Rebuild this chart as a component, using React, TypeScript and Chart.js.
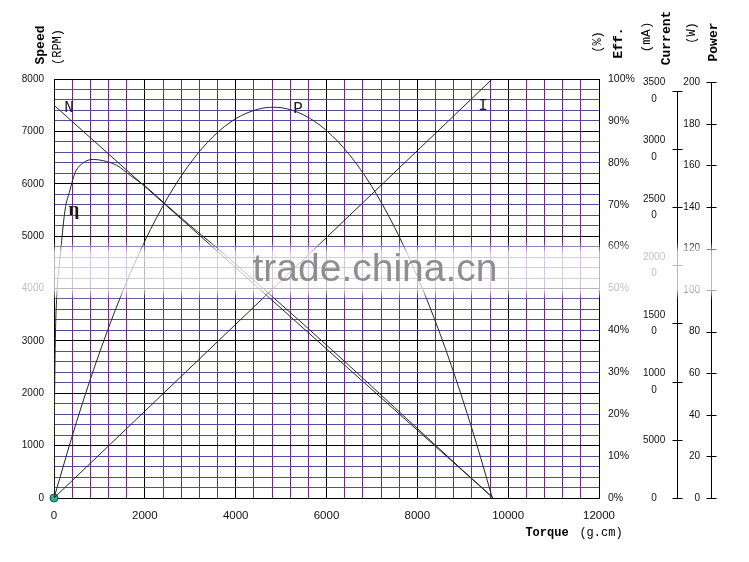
import React, { useEffect, useRef } from 'react';
import { Chart, registerables } from 'chart.js';

Chart.register(...registerables);

// ---- data ----
const N_TORQUE = [0, 9670];
const N_SPEED = [7500, 0];

const I_TORQUE = [0, 9650];
const I_CURRENT = [0, 36000];

const P_TORQUE = [0, 500, 1000, 1500, 2000, 2500, 3000, 3500, 4000, 4500, 4825, 5000, 5500, 6000, 6500, 7000, 7500, 8000, 8500, 9000, 9400, 9650];
const P_WATT = [0, 36.9, 69.8, 98.7, 123.6, 144.4, 161.1, 173.8, 182.5, 187.1, 188, 187.8, 184.3, 176.8, 165.3, 149.8, 130.2, 106.6, 79.0, 47.3, 19.0, 0];

const EFF_TORQUE = [0, 10, 30, 70, 120, 170, 242, 352, 463, 645, 866, 1086, 1381, 1700, 2000, 2500, 3000, 3500, 4000, 4500, 5000, 5500, 6000, 6500, 7000, 7500, 8000, 8500, 9000, 9400, 9670];
const EFF_PCT = [0, 20, 38, 50, 56, 61.5, 68.7, 73.5, 77.6, 80.0, 80.8, 80.5, 79.4, 76.8, 74.5, 69.7, 65.0, 60.5, 55.8, 51.0, 46.2, 41.4, 36.5, 31.6, 26.6, 21.6, 16.6, 11.6, 6.6, 2.7, 0];

const CURVE_LABELS = ['N', 'P', 'I'];
const CURVE_LABEL_TORQUE = [330, 5374, 9449];
const CURVE_LABEL_SPEED = [7446, 7427, 7484];
const ETA_LABEL = 'η';
const ETA_LABEL_TORQUE = 440;
const ETA_LABEL_SPEED = 5461;

// axis ticks
const X_MIN = 0, X_MAX = 12000, X_STEP = 400, X_LABEL_STEP = 2000;
const Y_MIN = 0, Y_MAX = 8000, Y_STEP = 200, Y_LABEL_STEP = 1000;
const EFF_TICKS = [0, 10, 20, 30, 40, 50, 60, 70, 80, 90, 100];
const CUR_TICKS = [0, 5000, 10000, 15000, 20000, 25000, 30000, 35000];
const POW_TICKS = [0, 20, 40, 60, 80, 100, 120, 140, 160, 180, 200];
const CUR_MAX = 36000;
const POW_MAX = 201.6;

const SANS = "'Liberation Sans', Arial, sans-serif";
const MONO = "'Liberation Mono', 'Courier New', monospace";
const SERIF = "'Liberation Serif', 'Times New Roman', serif";
const MAJOR = '#000000';
const MINOR_V = '#6e2c7c';
const MINOR_H = '#50509a';
const CURVE = '#262626';

function pts(xs: number[], ys: number[]) {
  return xs.map((x, i) => ({ x, y: ys[i] }));
}

function rotText(ctx: CanvasRenderingContext2D, text: string, x: number, y: number, font: string) {
  ctx.save();
  ctx.translate(x, y);
  ctx.rotate(-Math.PI / 2);
  ctx.font = font;
  ctx.textAlign = 'center';
  ctx.textBaseline = 'middle';
  ctx.fillStyle = '#000';
  ctx.fillText(text, 0, 0);
  ctx.restore();
}

const decorPlugin = {
  id: 'decor',
  afterDraw(chart: any) {
    const ctx: CanvasRenderingContext2D = chart.ctx;
    const sx = chart.scales.x;
    const sy = chart.scales.y;

    // side axes lines with tick marks (current, power)
    const drawAxis = (scale: any, ticks: number[], lineX: number) => {
      const xl = Math.round(lineX) + 0.5;
      const top = ticks[ticks.length - 1];
      ctx.save();
      ctx.strokeStyle = '#000';
      ctx.lineWidth = 1;
      ctx.beginPath();
      ctx.moveTo(xl, Math.round(scale.getPixelForValue(top)));
      ctx.lineTo(xl, Math.round(scale.getPixelForValue(0)) + 1);
      ticks.forEach((v) => {
        const y = Math.round(scale.getPixelForValue(v)) + 0.5;
        ctx.moveTo(xl - 5, y);
        ctx.lineTo(xl + 5, y);
      });
      ctx.stroke();
      ctx.restore();
    };
    drawAxis(chart.scales.cur, CUR_TICKS, chart.scales.cur.right);
    drawAxis(chart.scales.pow, POW_TICKS, chart.scales.pow.right + 11);

    // curve labels
    ctx.save();
    ctx.fillStyle = '#1a1a1a';
    ctx.textAlign = 'center';
    ctx.textBaseline = 'middle';
    ctx.font = `16px ${MONO}`;
    CURVE_LABELS.forEach((lab, i) => {
      ctx.fillText(lab, sx.getPixelForValue(CURVE_LABEL_TORQUE[i]), sy.getPixelForValue(CURVE_LABEL_SPEED[i]));
    });
    ctx.font = `bold 19px ${SERIF}`;
    ctx.fillText(ETA_LABEL, sx.getPixelForValue(ETA_LABEL_TORQUE), sy.getPixelForValue(ETA_LABEL_SPEED) - 2);
    ctx.restore();

    // axis titles
    rotText(ctx, 'Speed', 41, 45, `bold 13px ${MONO}`);
    rotText(ctx, '(RPM)', 58, 47, `12px ${MONO}`);
    rotText(ctx, '(%)', 598, 42, `12px ${MONO}`);
    rotText(ctx, 'Eff.', 619, 43, `bold 13px ${MONO}`);
    rotText(ctx, '(mA)', 647, 37, `13px ${MONO}`);
    rotText(ctx, 'Current', 667, 38, `bold 13px ${MONO}`);
    rotText(ctx, '(W)', 692, 33, `12px ${MONO}`);
    rotText(ctx, 'Power', 714, 42, `bold 13px ${MONO}`);

    ctx.save();
    ctx.fillStyle = '#000';
    ctx.textBaseline = 'middle';
    ctx.textAlign = 'center';
    ctx.font = `bold 12px ${MONO}`;
    ctx.fillText('Torque', 547, 533);
    ctx.font = `12px ${MONO}`;
    ctx.fillText('(g.cm)', 601, 533);
    ctx.restore();

    // watermark band
    ctx.save();
    const g = ctx.createLinearGradient(0, 242, 0, 300);
    g.addColorStop(0, 'rgba(255,255,255,0)');
    g.addColorStop(0.18, 'rgba(255,255,255,0.72)');
    g.addColorStop(0.82, 'rgba(255,255,255,0.72)');
    g.addColorStop(1, 'rgba(255,255,255,0)');
    ctx.fillStyle = g;
    ctx.fillRect(15, 242, 730, 58);
    ctx.filter = 'blur(0.7px)';
    ctx.fillStyle = '#8e8e8e';
    ctx.font = `39px ${SANS}`;
    ctx.textAlign = 'center';
    ctx.textBaseline = 'alphabetic';
    ctx.fillText('trade.china.cn', 375, 281);
    ctx.restore();
  },
};

export default function App() {
  const ref = useRef<HTMLCanvasElement | null>(null);

  useEffect(() => {
    if (!ref.current) return;
    const tickFont = (size: number, lh = 1.2) => ({ family: SANS, size, lineHeight: lh });
    const setTicks = (vals: number[]) => (s: any) => {
      s.ticks = vals.map((value) => ({ value }));
    };
    const chart = new Chart(ref.current, {
      type: 'scatter',
      data: {
        datasets: [
          {
            label: 'N',
            data: pts(N_TORQUE, N_SPEED),
            showLine: true,
            borderColor: CURVE,
            borderWidth: 1,
            pointRadius: 0,
            xAxisID: 'x',
            yAxisID: 'y',
          },
          {
            label: 'I',
            data: pts(I_TORQUE, I_CURRENT),
            showLine: true,
            borderColor: CURVE,
            borderWidth: 1,
            pointRadius: 0,
            xAxisID: 'x',
            yAxisID: 'cur',
          },
          {
            label: 'P',
            data: pts(P_TORQUE, P_WATT),
            showLine: true,
            cubicInterpolationMode: 'monotone',
            borderColor: CURVE,
            borderWidth: 1,
            pointRadius: 0,
            xAxisID: 'x',
            yAxisID: 'pow',
          },
          {
            label: 'η',
            data: pts(EFF_TORQUE, EFF_PCT),
            showLine: true,
            cubicInterpolationMode: 'monotone',
            borderColor: CURVE,
            borderWidth: 1,
            pointRadius: 0,
            xAxisID: 'x',
            yAxisID: 'eff',
          },
          {
            label: 'origin',
            data: [{ x: 0, y: 0 }],
            showLine: false,
            pointRadius: 4,
            pointBackgroundColor: '#27b58c',
            pointBorderColor: '#0f5a48',
            pointBorderWidth: 1,
            clip: false,
            xAxisID: 'x',
            yAxisID: 'y',
          } as any,
        ],
      },
      options: {
        animation: false,
        responsive: true,
        maintainAspectRatio: false,
        layout: { padding: { left: 0, top: 79, right: 49, bottom: 0 } },
        plugins: { legend: { display: false }, tooltip: { enabled: false }, title: { display: false } },
        scales: {
          x: {
            type: 'linear',
            position: 'bottom',
            min: X_MIN,
            max: X_MAX,
            afterFit: (s: any) => { s.height = 64; },
            ticks: {
              stepSize: X_STEP,
              autoSkip: false,
              maxRotation: 0,
              padding: 11,
              color: '#111',
              font: tickFont(11.5),
              callback: (v: any) => (Number(v) % X_LABEL_STEP === 0 ? String(v) : ''),
            },
            grid: {
              drawTicks: false,
              lineWidth: 1,
              color: (c: any) => (c.tick && c.tick.value % X_LABEL_STEP === 0 ? MAJOR : MINOR_V),
            },
            border: { display: true, color: '#000', width: 1 },
          },
          y: {
            type: 'linear',
            position: 'left',
            min: Y_MIN,
            max: Y_MAX,
            afterFit: (s: any) => { s.width = 54; },
            ticks: {
              stepSize: Y_STEP,
              autoSkip: false,
              padding: 10,
              color: '#111',
              font: tickFont(10),
              callback: (v: any) => (Number(v) % Y_LABEL_STEP === 0 ? String(v) : ''),
            },
            grid: {
              drawTicks: false,
              lineWidth: 1,
              color: (c: any) => (c.tick && c.tick.value % Y_LABEL_STEP === 0 ? MAJOR : MINOR_H),
            },
            border: { display: true, color: '#000', width: 1 },
          },
          eff: {
            type: 'linear',
            position: 'right',
            min: 0,
            max: 100,
            afterFit: (s: any) => { s.width = 40; },
            afterBuildTicks: setTicks(EFF_TICKS),
            ticks: {
              autoSkip: false,
              padding: 9,
              crossAlign: 'near',
              color: '#111',
              font: tickFont(10.5),
              callback: (v: any) => `${v}%`,
            },
            grid: { display: false, drawTicks: false },
            border: { display: false },
          },
          cur: {
            type: 'linear',
            position: 'right',
            min: 0,
            max: CUR_MAX,
            afterFit: (s: any) => { s.width = 38; },
            afterBuildTicks: setTicks(CUR_TICKS),
            ticks: {
              autoSkip: false,
              padding: 4,
              crossAlign: 'center',
              color: '#111',
              font: tickFont(10, 1.65),
              callback: (v: any) => {
                const s = String(v);
                return s.length > 4 ? [s.slice(0, 4), s.slice(4)] : s;
              },
            },
            grid: { display: false, drawTicks: false },
            border: { display: false },
          },
          pow: {
            type: 'linear',
            position: 'right',
            min: 0,
            max: POW_MAX,
            afterFit: (s: any) => { s.width = 23; },
            afterBuildTicks: setTicks(POW_TICKS),
            ticks: {
              autoSkip: false,
              padding: 0,
              crossAlign: 'far',
              color: '#111',
              font: tickFont(10),
            },
            grid: { display: false, drawTicks: false },
            border: { display: false },
          },
        },
      } as any,
      plugins: [decorPlugin],
    });
    return () => chart.destroy();
  }, []);

  return (
    <div style={{ position: 'fixed', left: 0, top: 0, width: 749, height: 562, background: '#fff' }}>
      <canvas ref={ref} />
    </div>
  );
}
